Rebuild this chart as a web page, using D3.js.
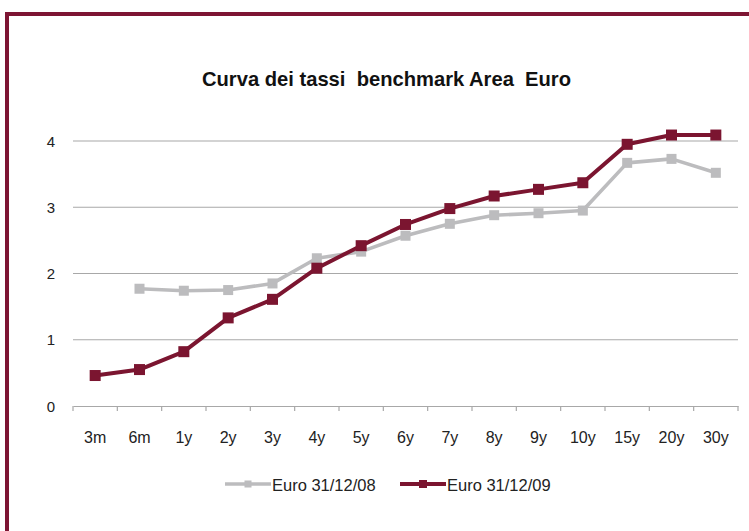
<!DOCTYPE html>
<html><head><meta charset="utf-8">
<script src="https://cdn.jsdelivr.net/npm/d3@7"></script>
<style>html,body{margin:0;padding:0;background:#fff;overflow:hidden}</style>
</head><body>
<svg id="c" width="749" height="531"></svg>
<script>
const categories = ["3m","6m","1y","2y","3y","4y","5y","6y","7y","8y","9y","10y","15y","20y","30y"];
const euro08 = [null,1.77,1.74,1.75,1.85,2.23,2.33,2.57,2.75,2.88,2.91,2.95,3.67,3.73,3.52];
const euro09 = [0.46,0.55,0.82,1.33,1.61,2.08,2.42,2.74,2.98,3.17,3.27,3.37,3.95,4.09,4.09];
const yTicks = [0,1,2,3,4];
const seriesNames = ["Euro 31/12/08","Euro 31/12/09"];
const colors = ["#bcbcbe","#7b1530"];

(function(){
const svg = d3.select("#c");
const font = "'Liberation Sans', Arial, sans-serif";

// frame
svg.append("rect").attr("x",7).attr("y",14).attr("width",800).attr("height",600)
  .attr("fill","none").attr("stroke","#7d1533").attr("stroke-width",4);

const pLeft = 73, pRight = 738, pTop = 141, pBottom = 406;
const x = d3.scaleBand().domain(categories).range([pLeft,pRight]);
const y = d3.scaleLinear().domain([0,4]).range([pBottom,pTop]);

// title
svg.append("text").attr("x",202).attr("y",86)
  .attr("xml:space","preserve").style("white-space","pre")
  .attr("textLength",369).attr("lengthAdjust","spacingAndGlyphs")
  .attr("font-family",font).attr("font-weight","bold").attr("font-size",20.5)
  .attr("fill","#111").text("Curva dei tassi  benchmark Area  Euro");

// grid
svg.append("g").selectAll("line").data(yTicks.filter(d=>d>0)).join("line")
  .attr("x1",pLeft).attr("x2",pRight).attr("y1",d=>y(d)).attr("y2",d=>y(d))
  .attr("stroke","#a8a8a8").attr("stroke-width",1.2);

// y labels
svg.append("g").selectAll("text").data(yTicks).join("text")
  .attr("x",55).attr("y",d=>y(d)+5.5).attr("text-anchor","end")
  .attr("font-family",font).attr("font-size",15).attr("fill","#222").text(d=>d);

// x axis
const xAxis = svg.append("g").attr("transform",`translate(0,${pBottom})`)
  .call(d3.axisBottom(x).tickSize(0).tickFormat(""));
xAxis.select(".domain").attr("stroke","#a8a8a8").attr("stroke-width",1.2);
const bounds = categories.map(c=>x(c)).concat([pRight]);
svg.append("g").selectAll("line").data(bounds).join("line")
  .attr("x1",d=>d).attr("x2",d=>d).attr("y1",pBottom).attr("y2",pBottom+5)
  .attr("stroke","#a8a8a8").attr("stroke-width",1.2);
svg.append("g").selectAll("text").data(categories).join("text")
  .attr("x",d=>x(d)+x.bandwidth()/2).attr("y",442.5).attr("text-anchor","middle")
  .attr("font-family",font).attr("font-size",16).attr("fill","#222").text(d=>d);

// series
const cx = i => x(categories[i]) + x.bandwidth()/2;
[euro08, euro09].forEach((vals,si)=>{
  const pts = vals.map((v,i)=>({i,v})).filter(d=>d.v!==null);
  const line = d3.line().x(d=>cx(d.i)).y(d=>y(d.v));
  svg.append("path").datum(pts).attr("d",line).attr("fill","none")
    .attr("stroke",colors[si]).attr("stroke-width",si?4:3.6).attr("stroke-linejoin","round");
  const s = si?11:10;
  svg.append("g").selectAll("rect").data(pts).join("rect")
    .attr("x",d=>cx(d.i)-s/2).attr("y",d=>y(d.v)-s/2).attr("width",s).attr("height",s)
    .attr("fill",colors[si]);
});

// legend
const legX = [225, 400];
seriesNames.forEach((n,si)=>{
  const g = svg.append("g");
  g.append("line").attr("x1",legX[si]).attr("x2",legX[si]+46).attr("y1",484).attr("y2",484)
    .attr("stroke",colors[si]).attr("stroke-width",si?4:3.6);
  const s = si?8:7;
  g.append("rect").attr("x",legX[si]+23-s/2).attr("y",484-s/2).attr("width",s).attr("height",s).attr("fill",colors[si]);
  g.append("text").attr("x",legX[si]+47).attr("y",491).attr("font-family",font).attr("font-size",16.5)
    .attr("fill","#222").text(n);
});
})();
</script>
</body></html>
